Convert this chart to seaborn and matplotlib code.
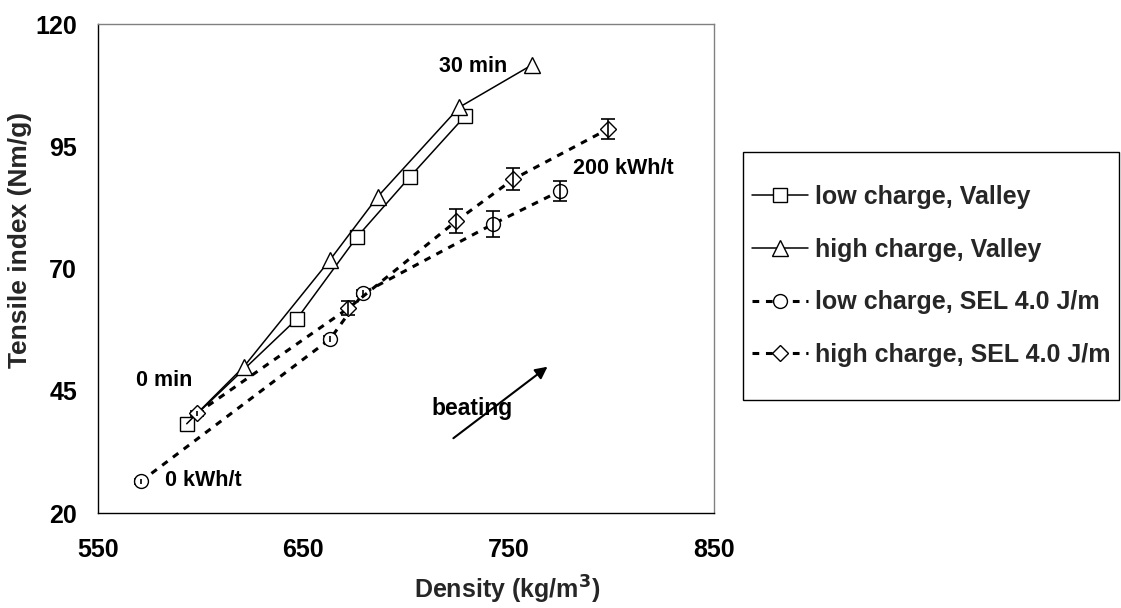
import matplotlib
matplotlib.use("Agg")
import matplotlib.pyplot as plt
from matplotlib.patches import Rectangle
import seaborn as sns
import pandas as pd

# ---- data ----
low_valley_x = [593.2, 646.8, 676.0, 702.0, 728.8]
low_valley_y = [38.3, 59.7, 76.4, 88.8, 101.2]

high_valley_x = [593.2, 621.1, 663.0, 686.2, 726.0, 761.2]
high_valley_y = [38.3, 50.0, 71.8, 84.7, 103.0, 111.6]

low_sel_x = [570.8, 663.0, 679.2, 742.3, 775.2]
low_sel_y = [26.5, 55.6, 65.0, 79.1, 85.9]
low_sel_err = [0.6, 0.6, 0.6, 2.6, 2.0]

high_sel_x = [598.1, 671.9, 724.4, 752.3, 798.3]
high_sel_y = [40.4, 61.9, 79.7, 88.3, 98.5]
high_sel_err = [0.6, 1.4, 2.4, 2.3, 2.0]

labels = ["low charge, Valley", "high charge, Valley",
          "low charge, SEL 4.0 J/m", "high charge, SEL 4.0 J/m"]

x_ticks = [550, 650, 750, 850]
y_ticks = [20, 45, 70, 95, 120]

sns.set_theme(style="white")
plt.rcParams['font.family'] = ['Liberation Sans', 'DejaVu Sans']
plt.rcParams['font.weight'] = 'bold'

W, H = 1121, 608
fig = plt.figure(figsize=(W / 100, H / 100), dpi=100)
ax = fig.add_axes([98/W, 1-513.3/H, (714-98)/W, (513.3-24)/H])

mk = dict(markerfacecolor='white', markeredgecolor='black', markeredgewidth=1.0)
dash = (0, (2.2, 2.2))

df1 = pd.DataFrame({'x': low_valley_x, 'y': low_valley_y})
df2 = pd.DataFrame({'x': high_valley_x, 'y': high_valley_y})
df3 = pd.DataFrame({'x': low_sel_x, 'y': low_sel_y})
df4 = pd.DataFrame({'x': high_sel_x, 'y': high_sel_y})

sns.lineplot(data=df1, x='x', y='y', ax=ax, color='black', lw=1.1, sort=False,
             estimator=None, marker='s', markersize=10, label=labels[0], **mk)
sns.lineplot(data=df2, x='x', y='y', ax=ax, color='black', lw=1.1, sort=False,
             estimator=None, marker='^', markersize=11, markevery=[1, 2, 3, 4, 5],
             label=labels[1], **mk)

sns.lineplot(data=df3, x='x', y='y', ax=ax, color='black', lw=2.2, sort=False,
             estimator=None, linestyle=dash, marker='o', markersize=10,
             label=labels[2], **mk)
sns.lineplot(data=df4, x='x', y='y', ax=ax, color='black', lw=2.2, sort=False,
             estimator=None, linestyle=dash, marker='D', markersize=8,
             label=labels[3], **mk)

for ex, ey, ee in [(low_sel_x, low_sel_y, low_sel_err),
                   (high_sel_x, high_sel_y, high_sel_err)]:
    cont = ax.errorbar(ex, ey, yerr=ee, fmt='none', ecolor='black',
                       elinewidth=1.2, capsize=5, capthick=1.2)
    _, caps, bars = cont.lines
    for c in caps:
        c.set_zorder(1)
    for b in bars:
        b.set_zorder(4)

ax.set_xlim(550, 850)
ax.set_ylim(20, 120)
ax.set_xticks(x_ticks)
ax.set_yticks(y_ticks)
ax.tick_params(axis='both', direction='inout', length=12, width=1, colors='black',
               labelsize=18)
ax.tick_params(axis='x', pad=12)
ax.tick_params(axis='y', pad=9)
for lab in ax.get_xticklabels() + ax.get_yticklabels():
    lab.set_fontweight('bold')

for s in ['left', 'bottom']:
    ax.spines[s].set_color('black')
    ax.spines[s].set_linewidth(1.0)
for s in ['top', 'right']:
    ax.spines[s].set_color('#808080')
    ax.spines[s].set_linewidth(1.0)

ax.set_xlabel('Density (kg/m$^{\\mathbf{3}}$)', fontsize=18, fontweight='bold')
ax.set_ylabel('Tensile index (Nm/g)', fontsize=19, fontweight='bold')
ax.xaxis.set_label_coords((507-98)/616, -(590-513.3)/489.3)
ax.yaxis.set_label_coords(-(98-20)/616, (513.3-240)/489.3)
ax.xaxis.label.set_va('center')
ax.yaxis.label.set_va('center')

tk = dict(fontsize=15.5, fontweight='bold', color='black')
ax.text(732.5, 111.3, '30 min', ha='center', va='center', **tk)
ax.text(781.2, 90.5, '200 kWh/t', ha='left', va='center', **tk)
ax.text(568.5, 47.2, '0 min', ha='left', va='center', **tk)
ax.text(582.6, 26.8, '0 kWh/t', ha='left', va='center', **tk)
ax.text(732, 41.5, 'beating', ha='center', va='center', fontsize=16.5,
        fontweight='bold', color='black')
ax.annotate('', xy=(770, 50.3), xytext=(722, 35),
            arrowprops=dict(arrowstyle='-|>', color='black', lw=1.5, mutation_scale=18))

# legend: entries without frame, box drawn as a figure rectangle
ax.get_legend().remove()
h, l = ax.get_legend_handles_labels()
box_l, box_r, box_t, box_b = 743, 1119, 152, 400
leg = fig.legend(h, l, loc='center left',
                 bbox_to_anchor=(752/W, 1 - (box_t + box_b) / 2 / H),
                 frameon=False, prop={'size': 18, 'weight': 'bold'},
                 handlelength=2.24, handletextpad=0.28, labelspacing=1.15,
                 borderpad=0, borderaxespad=0)
fig.add_artist(Rectangle((box_l/W, 1 - box_b/H), (box_r - box_l)/W, (box_b - box_t)/H,
                         transform=fig.transFigure, fill=False, ec='black', lw=1.0))

fig.savefig('out.png', dpi=100)
